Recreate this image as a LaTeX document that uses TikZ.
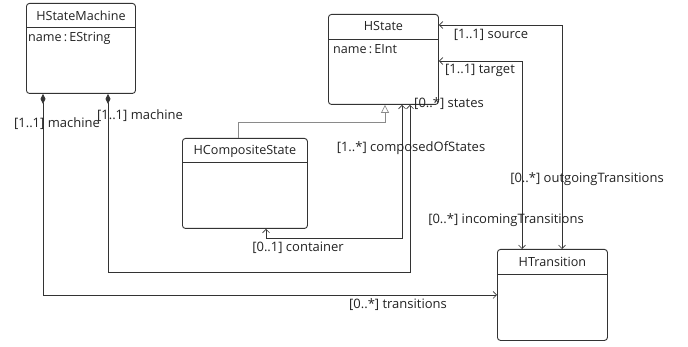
\documentclass[tikz,border=0pt]{standalone}
\usepackage{fontspec}
\setmainfont{Open Sans}
\usetikzlibrary{arrows.meta,calc}
\definecolor{ln}{HTML}{333333}
\definecolor{gl}{HTML}{8A8A8A}
\definecolor{tx}{HTML}{222222}
\begin{document}
\begin{tikzpicture}[x=1pt,y=-1pt,
  cls/.style={draw=ln,line width=0.9pt,rounded corners=3pt,fill=white,anchor=north west,inner sep=0pt},
  hdr/.style={font=\fontsize{12.6}{14}\selectfont,text=tx,inner sep=0pt},
  attr/.style={font=\fontsize{12.6}{14}\selectfont,text=tx,inner sep=0pt,anchor=west},
  lbl/.style={font=\fontsize{13}{15}\selectfont,text=tx,inner sep=0pt},
  conn/.style={draw=ln,line width=0.8pt},
  barb/.tip={Straight Barb[length=3.5pt,width=7pt,line width=0.6pt]},
  dia/.tip={Diamond[length=10pt,width=5pt]},
  gen/.tip={Triangle[open,length=8pt,width=8pt,fill=white]}]
\useasboundingbox (0,0) rectangle (688,347);
% classes
\node[cls,minimum width=109pt,minimum height=90pt] (sm) at (26,3) {};
\node[cls,minimum width=110pt,minimum height=90pt] (hs) at (328,14) {};
\node[cls,minimum width=125pt,minimum height=90pt] (hc) at (182,138) {};
\node[cls,minimum width=110pt,minimum height=91pt] (tr) at (497,249) {};
\draw[ln,line width=0.7pt] ($(sm.north west)+(0,24)$) -- ($(sm.north east)+(0,24)$);
\draw[ln,line width=0.7pt] ($(hs.north west)+(0,25)$) -- ($(hs.north east)+(0,25)$);
\draw[ln,line width=0.7pt] ($(hc.north west)+(0,24)$) -- ($(hc.north east)+(0,24)$);
\draw[ln,line width=0.7pt] ($(tr.north west)+(0,25)$) -- ($(tr.north east)+(0,25)$);
\node[hdr] (smh) at ($(sm.north)+(0,13)$) {HStateMachine};
\node[hdr] (hsh) at ($(hs.north)+(0,12)$) {HState};
\node[hdr] (hch) at ($(hc.north)+(0,13)$) {HCompositeState};
\node[hdr] (trh) at ($(tr.north)+(0,13)$) {HTransition};
\node[attr] (sma) at ($(sm.north west)+(2,35)$) {name\,:\,EString};
\node[attr] (hsa) at ($(hs.north west)+(5,35)$) {name\,:\,EInt};
% coordinates on the boxes
\coordinate (smA) at ($(sm.south west)+(17,0)$);
\coordinate (smB) at ($(sm.south west)+(82,0)$);
\coordinate (hsG) at ($(hs.south west)+(57,0)$);
\coordinate (hsC) at ($(hs.south west)+(74,0)$);
\coordinate (hsS) at ($(hs.south west)+(82,0)$);
\coordinate (hsSrc) at ($(hs.north east)+(0,11)$);
\coordinate (hsTgt) at ($(hs.north east)+(0,47)$);
\coordinate (hcT) at ($(hc.north west)+(56,0)$);
\coordinate (hcB) at ($(hc.south west)+(84,0)$);
\coordinate (trI) at ($(tr.north west)+(25,0)$);
\coordinate (trO) at ($(tr.north west)+(65,0)$);
% generalization
\draw[draw=gl,line width=0.7pt,-gen] (hcT) -- ($(hcT)+(0,-16)$) -| (hsG);
% composition: transitions
\draw[conn,dia-barb] (smA) |- (tr.west);
% composition: states / machine
\draw[conn,dia-barb] (smB) -- ($(smB)+(0,179)$) -| (hsS);
% composedOfStates / container
\draw[conn,barb-barb] (hsC) -- ($(hsC)+(0,134)$) -| (hcB);
% source / outgoing
\draw[conn,barb-barb] (hsSrc) -| (trO);
% target / incoming
\draw[conn,barb-barb] (hsTgt) -| (trI);
% labels
\node[lbl] (l1) at (57,124) {[1..1] machine};
\node[lbl] (l2) at (140,116) {[1..1] machine};
\node[lbl] (l3) at (398,305) {[0..*] transitions};
\node[lbl] (l4) at (298,248) {[0..1] container};
\node[lbl] (l5) at (411,148) {[1..*] composedOfStates};
\node[lbl] (l6) at (449,104) {[0..*] states};
\node[lbl] (l7) at (491,35) {[1..1] source};
\node[lbl] (l8) at (480,70) {[1..1] target};
\node[lbl] (l9) at (587,179) {[0..*] outgoingTransitions};
\node[lbl] (l10) at (506,220) {[0..*] incomingTransitions};
\end{tikzpicture}
\end{document}
